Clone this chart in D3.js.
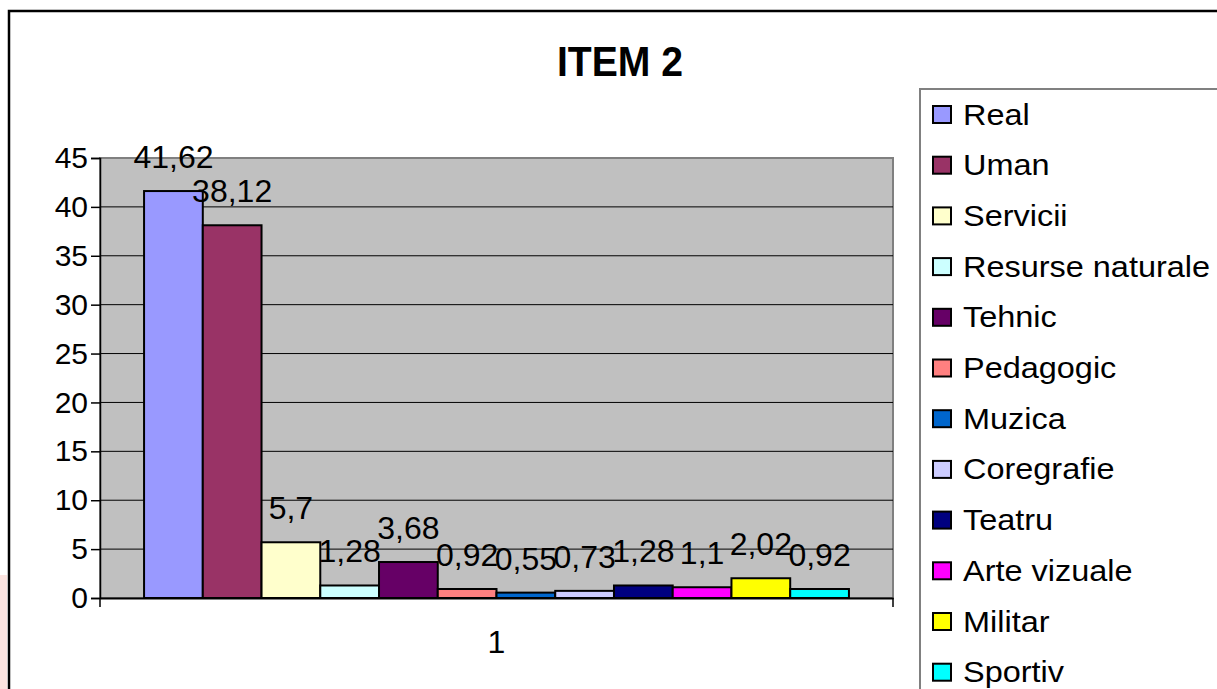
<!DOCTYPE html>
<html><head><meta charset="utf-8">
<script src="https://cdn.jsdelivr.net/npm/d3@7"></script>
<style>
html,body{margin:0;padding:0;background:#fff;overflow:hidden}
text{font-family:Arial,"Liberation Sans",sans-serif}
</style></head>
<body>
<svg id="c" width="1217" height="689"></svg>
<script>
const title = "ITEM 2";
const categories = ["1"];
const seriesNames = ["Real","Uman","Servicii","Resurse naturale","Tehnic","Pedagogic","Muzica","Coregrafie","Teatru","Arte vizuale","Militar","Sportiv"];
const seriesValues = [41.62,38.12,5.7,1.28,3.68,0.92,0.55,0.73,1.28,1.1,2.02,0.92];
const seriesColors = ["#9999FF","#993366","#FFFFCC","#CCFFFF","#660066","#FF8080","#0066CC","#CCCCFF","#000080","#FF00FF","#FFFF00","#00FFFF"];
const yTicks = [0,5,10,15,20,25,30,35,40,45];

const svg = d3.select("#c");
const plot = {left:100, right:893, top:158, bottom:598};

// faint artifact strip at bottom-left
svg.append("rect").attr("x",0).attr("y",575).attr("width",7).attr("height",114).attr("fill","#FBE3DF");

// outer frame
svg.append("path").attr("d","M9,689 V11 H1217").attr("fill","none").attr("stroke","#000").attr("stroke-width",2.5);

// title
svg.append("text").attr("transform","translate(620,76) scale(1.03,1.1)").attr("text-anchor","middle")
  .attr("font-size",38).attr("font-weight","bold").text(title);

const y = d3.scaleLinear().domain([0,45]).range([plot.bottom, plot.top]);
const x0 = d3.scaleBand().domain(categories).range([plot.left, plot.right]).paddingInner(0).paddingOuter(0.0625);
const x1 = d3.scaleBand().domain(seriesNames).range([0, x0.bandwidth()]).padding(0);

// plot area
svg.append("rect").attr("x",plot.left).attr("y",plot.top).attr("width",plot.right-plot.left).attr("height",plot.bottom-plot.top)
  .attr("fill","#C0C0C0").attr("stroke","#808080").attr("stroke-width",2);

// gridlines
svg.append("g").selectAll("line").data(yTicks.filter(d=>d>0 && d<45)).join("line")
  .attr("x1",plot.left).attr("x2",plot.right).attr("y1",d=>y(d)).attr("y2",d=>y(d))
  .attr("stroke","#000").attr("stroke-width",1);

// y axis
const yAxis = d3.axisLeft(y).tickValues(yTicks).tickSize(9).tickPadding(3).tickFormat(d=>String(d));
const gy = svg.append("g").attr("transform",`translate(${plot.left},0)`).call(yAxis);
gy.select(".domain").attr("stroke","#000").attr("stroke-width",1.5);
gy.selectAll(".tick line").attr("stroke","#000").attr("stroke-width",1.5);
gy.selectAll(".tick text").attr("font-size",30).attr("fill","#000").attr("font-family","Arial, 'Liberation Sans', sans-serif");

// x axis
const xAxis = d3.axisBottom(x0).tickSize(0).tickPadding(32);
const gx = svg.append("g").attr("transform",`translate(0,${plot.bottom})`).call(xAxis);
gx.select(".domain").attr("stroke","#000").attr("stroke-width",2);
gx.selectAll(".tick text").attr("font-size",32).attr("fill","#000").attr("font-family","Arial, 'Liberation Sans', sans-serif");
// category boundary ticks
svg.append("g").selectAll("line").data([plot.left, plot.right]).join("line")
  .attr("x1",d=>d).attr("x2",d=>d).attr("y1",plot.bottom).attr("y2",plot.bottom+9)
  .attr("stroke","#000").attr("stroke-width",1.5);

// bars
const data = seriesNames.map((n,i)=>({name:n, value:seriesValues[i], color:seriesColors[i]}));
const g = svg.append("g").attr("transform",`translate(${x0(categories[0])},0)`);
g.selectAll("rect").data(data).join("rect")
  .attr("x",d=>x1(d.name)).attr("width",x1.bandwidth())
  .attr("y",d=>y(d.value)).attr("height",d=>y(0)-y(d.value))
  .attr("fill",d=>d.color).attr("stroke","#000").attr("stroke-width",2);

// data labels
g.selectAll("text.lbl").data(data).join("text").attr("class","lbl")
  .attr("x",d=>x1(d.name)+x1.bandwidth()/2).attr("y",d=>y(d.value)-23)
  .attr("text-anchor","middle").attr("font-size",32).attr("fill","#000")
  .text(d=>String(d.value).replace(".",","));

// legend
svg.append("rect").attr("x",920).attr("y",89).attr("width",320).attr("height",640)
  .attr("fill","#fff").attr("stroke","#808080").attr("stroke-width",2);
const lg = svg.append("g").selectAll("g").data(data).join("g")
  .attr("transform",(d,i)=>`translate(933,${114 + i*50.7})`);
lg.append("rect").attr("x",0).attr("y",-8).attr("width",18).attr("height",17)
  .attr("fill",d=>d.color).attr("stroke","#000").attr("stroke-width",2);
lg.append("text").attr("transform","translate(30,10.5) scale(1.1,1)")
  .attr("font-size",29.5).attr("fill","#000").text(d=>d.name);
</script>
</body></html>
